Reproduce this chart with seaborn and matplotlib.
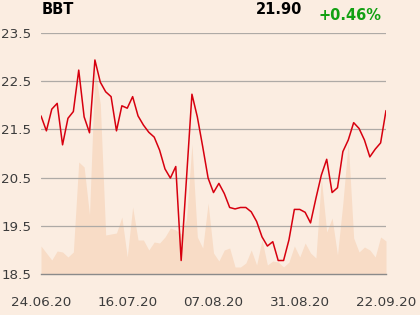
import matplotlib
matplotlib.use("Agg")
import matplotlib.pyplot as plt
import seaborn as sns
import numpy as np
import pandas as pd

ticker = "BBT"
last_price = "21.90"
change = "+0.46%"

price = [21.78, 21.47, 21.92, 22.04, 21.18, 21.73, 21.87, 22.73, 21.76, 21.43,
         22.94, 22.48, 22.28, 22.18, 21.47, 21.99, 21.94, 22.18, 21.78, 21.59,
         21.44, 21.34, 21.07, 20.68, 20.49, 20.73, 18.78, 20.50, 22.23, 21.76,
         21.14, 20.49, 20.19, 20.38, 20.17, 19.88, 19.85, 19.88, 19.88, 19.79,
         19.59, 19.27, 19.08, 19.17, 18.78, 18.78, 19.21, 19.84, 19.84, 19.78,
         19.56, 20.07, 20.55, 20.88, 20.19, 20.29, 21.04, 21.28, 21.64, 21.52,
         21.28, 20.93, 21.09, 21.22, 21.89]

volume = [28, 21, 14, 23, 22, 17, 22, 112, 107, 59,
          205, 170, 39, 40, 41, 57, 17, 67, 34, 34,
          24, 32, 31, 37, 46, 44, 40, 55, 130, 37,
          26, 71, 21, 13, 24, 26, 7, 7, 11, 24,
          9, 34, 9, 13, 12, 7, 12, 28, 17, 31,
          21, 16, 96, 42, 56, 19, 71, 132, 36, 22,
          27, 24, 17, 37, 33]

tick_pos = [0, 16, 32, 48, 64]
tick_labels = ["24.06.20", "16.07.20", "07.08.20", "31.08.20", "22.09.20"]
y_ticks = [18.5, 19.5, 20.5, 21.5, 22.5, 23.5]

df = pd.DataFrame({"idx": np.arange(len(price)), "price": price, "volume": volume})

bg = "#FBEDE1"
area_col = "#F8DCC6"
line_col = "#D7000F"
grid_col = "#AEAAA6"
text_col = "#3C3C3C"

sns.set_theme(style="white")
plt.rcParams["font.family"] = ["DejaVu Sans"]

fig = plt.figure(figsize=(4.2, 3.15), dpi=100, facecolor=bg)
ax = fig.add_axes([41/420, 1 - 274/315, 345/420, 241/315])
axv = ax.twinx()

# volume area (behind)
axv.fill_between(df["idx"], 0, df["volume"], color=area_col, linewidth=0)
axv.set_ylim(0, 241)
axv.set_xlim(0, 64)
axv.axis("off")
axv.set_zorder(1)
ax.set_zorder(2)
ax.patch.set_visible(False)
axv.patch.set_visible(True)
axv.patch.set_facecolor(bg)

sns.lineplot(data=df, x="idx", y="price", ax=ax, color=line_col, linewidth=1.1)
ax.set_xlim(0, 64)
ax.set_ylim(18.5, 23.5)
ax.set_yticks(y_ticks)
ax.set_yticklabels([f"{v:.1f}" for v in y_ticks])
ax.set_xticks(tick_pos)
ax.set_xticklabels(tick_labels)
ax.set_xlabel("")
ax.set_ylabel("")

for v in y_ticks[1:]:
    ax.axhline(v, color=grid_col, linewidth=0.9, zorder=0.5)

for s in ["top", "right", "left"]:
    ax.spines[s].set_visible(False)
ax.spines["bottom"].set_color("#8A8A8A")
ax.spines["bottom"].set_linewidth(1.0)

ax.tick_params(axis="y", length=0, pad=7, labelsize=9.7, labelcolor=text_col)
ax.tick_params(axis="x", length=13, width=1.0, color="#8A8A8A", direction="out",
               pad=3, labelsize=9.7, labelcolor=text_col)

fig.text(42/420, 1 - 10/315, ticker, fontsize=10.5, fontweight="bold",
         color="black", ha="left", va="center")
fig.text(302/420, 1 - 10/315, last_price, fontsize=10.5, fontweight="bold",
         color="black", ha="right", va="center")
fig.text(381/420, 1 - 16/315, change, fontsize=10.5, fontweight="bold",
         color="#12A012", ha="right", va="center")

fig.savefig("out.png", dpi=100, facecolor=bg)
